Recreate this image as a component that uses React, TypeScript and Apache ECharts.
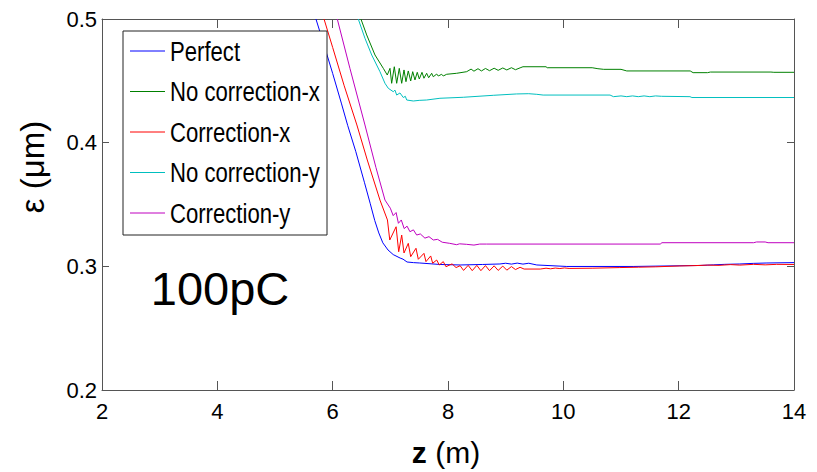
import React, { useEffect, useRef } from "react";
import * as echarts from "echarts";

const seriesNames = ["Perfect", "No correction-x", "Correction-x", "No correction-y", "Correction-y"];
const seriesColors = ["#0000ff", "#008000", "#ff0000", "#00bfbf", "#bf00bf"];

const xTicks = [2, 4, 6, 8, 10, 12, 14];
const yTicks = [0.2, 0.3, 0.4, 0.5];

const perfect: number[][] = [
  [5.71, 0.5], [5.85, 0.479], [6.0, 0.456], [6.15, 0.432], [6.26, 0.414], [6.4, 0.393],
  [6.55, 0.368], [6.65, 0.351], [6.73, 0.337], [6.8, 0.327], [6.87, 0.319], [6.96, 0.3132],
  [7.05, 0.3095], [7.17, 0.3067], [7.22, 0.3058], [7.29, 0.3035], [7.4, 0.303], [7.51, 0.3027],
  [7.86, 0.3015], [8.21, 0.3011], [8.6, 0.3015], [8.9, 0.3019], [9.0, 0.3025], [9.1, 0.3018],
  [9.2, 0.3026], [9.3, 0.3018], [9.4, 0.3025], [9.54, 0.3011], [10.06, 0.2999], [11.21, 0.2999],
  [12.37, 0.3007], [12.6, 0.3012], [12.8, 0.3016], [13.06, 0.3019], [13.3, 0.3024], [13.53, 0.3027],
  [14, 0.303],
];

const noCorrectionX: number[][] = [
  [6.49, 0.5], [6.59, 0.4871], [6.734, 0.4709], [6.878, 0.4601], [6.947, 0.4547], [6.994, 0.4601],
  [7.023, 0.448], [7.069, 0.4614], [7.11, 0.448], [7.155, 0.4601], [7.197, 0.448], [7.237, 0.4588],
  [7.271, 0.4493], [7.311, 0.458], [7.353, 0.4499], [7.388, 0.4574], [7.427, 0.4507], [7.467, 0.4569],
  [7.502, 0.4515], [7.549, 0.4569], [7.583, 0.4521], [7.63, 0.4561], [7.665, 0.4525], [7.717, 0.4561],
  [7.745, 0.4533], [7.804, 0.4555], [7.832, 0.4539], [7.89, 0.4553], [7.918, 0.4539], [7.977, 0.4553],
  [8.15, 0.4561], [8.324, 0.4574], [8.4, 0.4595], [8.45, 0.4578], [8.52, 0.4598], [8.58, 0.458],
  [8.65, 0.46], [8.72, 0.4582], [8.8, 0.4602], [8.87, 0.4585], [8.95, 0.4604], [9.02, 0.4588],
  [9.1, 0.4606], [9.17, 0.459], [9.25, 0.4605], [9.3, 0.4614], [9.7, 0.4614], [9.72, 0.4606],
  [10.5, 0.4606], [10.6, 0.4598], [10.7, 0.4593], [11.0, 0.4593], [11.1, 0.458], [12.2, 0.458],
  [12.25, 0.4566], [12.5, 0.4566], [12.55, 0.4571], [13.6, 0.4571], [13.65, 0.4569], [14, 0.4569],
];

const correctionX: number[][] = [
  [5.85, 0.5], [6.0, 0.477], [6.2, 0.446], [6.42, 0.4143], [6.6, 0.386], [6.82, 0.3536],
  [6.95, 0.3375], [6.99, 0.3213], [7.1, 0.332], [7.145, 0.3118], [7.197, 0.3253], [7.237, 0.3108],
  [7.311, 0.3186], [7.353, 0.3078], [7.445, 0.3146], [7.485, 0.3057], [7.583, 0.3105], [7.618, 0.3038],
  [7.7, 0.3084], [7.734, 0.3025], [7.804, 0.3051], [7.849, 0.3011], [7.918, 0.3038], [7.965, 0.2997],
  [8.07, 0.302], [8.14, 0.299], [8.21, 0.3005], [8.27, 0.2967], [8.35, 0.3008], [8.42, 0.2965],
  [8.5, 0.3008], [8.57, 0.2965], [8.65, 0.3006], [8.72, 0.2965], [8.8, 0.3004], [8.87, 0.2967],
  [8.95, 0.3002], [9.02, 0.2969], [9.1, 0.2998], [9.17, 0.2974], [9.25, 0.2992], [9.32, 0.2978],
  [9.6, 0.2978], [9.7, 0.2985], [9.78, 0.298], [9.86, 0.2986], [9.94, 0.2982], [10.02, 0.2987],
  [10.1, 0.2983], [10.5, 0.2985], [10.98, 0.299], [11.3, 0.2993], [11.6, 0.2996], [12.02, 0.3003],
  [12.3, 0.3006], [12.5, 0.301], [12.7, 0.3008], [12.9, 0.3014], [13.06, 0.301], [13.3, 0.3016],
  [13.5, 0.3012], [13.7, 0.3016], [14, 0.3015],
];

const noCorrectionY: number[][] = [
  [6.444, 0.5], [6.56, 0.4844], [6.677, 0.4709], [6.82, 0.4574], [6.907, 0.448], [6.964, 0.444],
  [7.051, 0.4412], [7.08, 0.4425], [7.11, 0.4385], [7.167, 0.4402], [7.225, 0.4365], [7.26, 0.4375],
  [7.284, 0.4345], [7.398, 0.4337], [7.5, 0.4342], [7.63, 0.4345], [7.86, 0.4359], [8.265, 0.4367],
  [8.785, 0.4383], [9.19, 0.4394], [9.4, 0.4396], [9.54, 0.4391], [9.65, 0.4385], [10.81, 0.4385],
  [10.87, 0.4372], [11.0, 0.4378], [11.1, 0.4372], [11.2, 0.4378], [11.3, 0.4372], [11.4, 0.4378],
  [11.5, 0.4372], [11.6, 0.4378], [11.7, 0.4375], [12.196, 0.4372], [12.23, 0.4365], [14, 0.4365],
];

const correctionY: number[][] = [
  [6.08, 0.5], [6.3, 0.46], [6.56, 0.4143], [6.75, 0.38], [6.907, 0.3536], [7.0, 0.347],
  [7.05, 0.341], [7.1, 0.3435], [7.14, 0.3348], [7.19, 0.3375], [7.24, 0.3305], [7.29, 0.3325],
  [7.34, 0.328], [7.4, 0.3295], [7.457, 0.3253], [7.52, 0.3262], [7.6, 0.3228], [7.67, 0.324],
  [7.745, 0.3213], [7.82, 0.3218], [7.9, 0.3195], [8.03, 0.3186], [8.15, 0.3175], [8.2, 0.3182],
  [8.32, 0.3178], [8.45, 0.3172], [8.55, 0.318], [8.67, 0.318], [11.68, 0.318], [11.71, 0.3191],
  [13.3, 0.3191], [13.35, 0.3197], [13.5, 0.3197], [13.55, 0.3191], [14, 0.3191],
];

const seriesData = [perfect, noCorrectionX, correctionX, noCorrectionY, correctionY];

const SANS = "'Liberation Sans', Arial, Helvetica, sans-serif";
const AXIS_COLOR = "#555";

export default function App() {
  const ref = useRef<HTMLDivElement>(null);
  useEffect(() => {
    if (!ref.current) return;
    const chart = echarts.init(ref.current, undefined, { renderer: "svg" });
    const xMin = xTicks[0];
    const xMax = xTicks[xTicks.length - 1];
    const xInt = xTicks[1] - xTicks[0];
    const yMin = yTicks[0];
    const yMax = yTicks[yTicks.length - 1];
    const yInt = 0.1;
    const axisCommonX = {
      type: "value" as const,
      min: xMin,
      max: xMax,
      interval: xInt,
      splitLine: { show: false },
      axisLine: { show: true, lineStyle: { color: AXIS_COLOR, width: 1 } },
      axisTick: { show: true, inside: true, length: 9, lineStyle: { color: AXIS_COLOR, width: 1 } },
    };
    const axisCommonY = {
      type: "value" as const,
      min: yMin,
      max: yMax,
      interval: yInt,
      splitLine: { show: false },
      axisLine: { show: true, lineStyle: { color: AXIS_COLOR, width: 1 } },
      axisTick: { show: true, inside: true, length: 7, lineStyle: { color: AXIS_COLOR, width: 1 } },
    };

    // legend box drawn as graphic (condensed text like the original)
    const legendLeft = 123;
    const legendTop = 31;
    const legendW = 204;
    const legendH = 204;
    const rowGap = 40.5;
    const firstRow = 51;
    const legendEls: any[] = [
      {
        type: "rect",
        z: 100,
        shape: { x: legendLeft, y: legendTop, width: legendW, height: legendH },
        style: { fill: "#fff", stroke: "#222", lineWidth: 1 },
      },
    ];
    seriesNames.forEach((name, i) => {
      const cy = firstRow + i * rowGap;
      legendEls.push({
        type: "line",
        z: 101,
        shape: { x1: legendLeft + 7, y1: cy, x2: legendLeft + 42, y2: cy },
        style: { stroke: seriesColors[i], lineWidth: 1 },
      });
      legendEls.push({
        type: "text",
        z: 101,
        x: legendLeft + 47,
        y: cy,
        scaleX: 0.79,
        style: {
          text: name,
          font: `28px ${SANS}`,
          fill: "#000",
          textAlign: "left",
          textVerticalAlign: "middle",
        },
      });
    });

    chart.setOption({
      animation: false,
      backgroundColor: "#fff",
      grid: { left: 102, top: 19, right: 23, bottom: 82, containLabel: false },
      xAxis: [
        {
          ...axisCommonX,
          position: "bottom",
          axisLabel: { show: true, fontSize: 22, fontFamily: SANS, color: "#000", margin: 10 },
        },
        {
          ...axisCommonX,
          position: "top",
          axisLabel: { show: false },
        },
      ],
      yAxis: [
        {
          ...axisCommonY,
          position: "left",
          axisLabel: {
            show: true,
            fontSize: 22,
            fontFamily: SANS,
            color: "#000",
            margin: 5,
            formatter: (v: number) => v.toFixed(1),
          },
        },
        {
          ...axisCommonY,
          position: "right",
          axisLabel: { show: false },
        },
      ],
      graphic: [
        ...legendEls,
        {
          type: "text",
          z: 100,
          x: 220,
          y: 288,
          style: {
            text: "100pC",
            font: `47px ${SANS}`,
            fill: "#000",
            textAlign: "center",
            textVerticalAlign: "middle",
          },
        },
        {
          type: "text",
          z: 100,
          x: 446,
          y: 452,
          style: {
            text: "{b|z} (m)",
            font: `30px ${SANS}`,
            fill: "#000",
            textAlign: "center",
            textVerticalAlign: "middle",
            rich: { b: { fontWeight: "bold", fontSize: 30, fontFamily: SANS } },
          },
        },
        {
          type: "text",
          z: 100,
          x: 32,
          y: 167,
          rotation: Math.PI / 2,
          style: {
            text: "ε (μm)",
            font: `33px ${SANS}`,
            fill: "#000",
            textAlign: "center",
            textVerticalAlign: "middle",
          },
        },
      ],
      series: seriesNames.map((name, i) => ({
        name,
        type: "line",
        xAxisIndex: 0,
        yAxisIndex: 0,
        data: seriesData[i],
        symbol: "none",
        showSymbol: false,
        clip: true,
        color: seriesColors[i],
        lineStyle: { color: seriesColors[i], width: 1 },
      })),
    });
    return () => chart.dispose();
  }, []);
  return (
    <div
      ref={ref}
      style={{ position: "fixed", left: 0, top: 0, width: 817, height: 472 }}
    />
  );
}
